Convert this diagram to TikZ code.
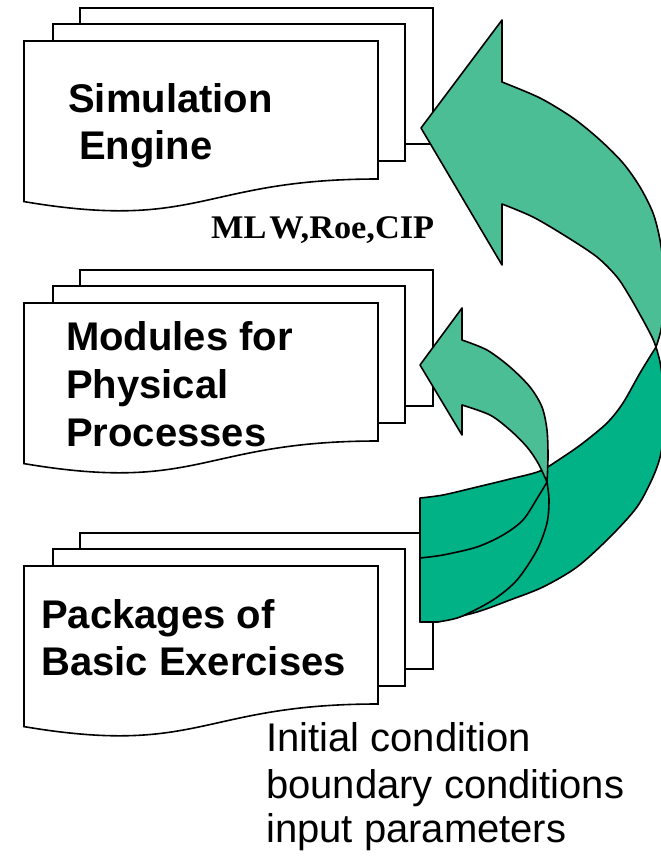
\documentclass[tikz,border=0pt]{standalone}
\usepackage{fontspec}
\setmainfont{Liberation Sans}
\newfontfamily\timesfont[FakeStretch=1.04]{Liberation Serif}
\definecolor{ribbonlight}{RGB}{76,190,150}
\definecolor{ribbondark}{RGB}{0,178,134}

\tikzset{
  sheet/.style={draw=black, line width=1.6pt, fill=white, line join=miter},
  ribbon/.style={draw=black, line width=1.6pt, line join=round},
  boxtext/.style={anchor=base west, inner sep=0pt, font=\fontsize{40}{48}\selectfont\bfseries},
  condtext/.style={anchor=base west, inner sep=0pt, font=\fontsize{40}{46}\selectfont},
  schemetext/.style={anchor=base west, inner sep=0pt, font=\timesfont\fontsize{33}{38}\selectfont\bfseries},
  % stack of three sheets, origin at the top-left corner of the front sheet
  pics/multidoc/.style={code={
    \path[sheet] (56,-33) rectangle (409,103);
    \path[sheet] (29,-17) rectangle (381,120);
    \path[sheet] (0,0) -- (354,0) -- (354,138)
      .. controls (177,138) and (177,190.5) .. (0,160.6) -- cycle;
  }}
}

\begin{document}
\begin{tikzpicture}[x=1pt,y=-1pt]
\useasboundingbox (0,0) rectangle (661,857);
\clip (0,0) rectangle (661,857);

% document stacks
\pic (engine) at (24,41) {multidoc};
\pic (modules) at (24,303) {multidoc};
\pic (packages) at (24,566) {multidoc};

% large curved arrow: underside of the ribbon
\path[ribbon, fill=ribbondark] (420,498) -- (420,622) -- (437,622)
  -- plot[smooth] coordinates {(437,622) (477,612) (510,600) (543,587) (577,567)
     (610,537) (637,507) (653,477) (661,453) (664,420) (663,385) (660,362) (656,347)}
  -- plot[smooth] coordinates {(656,347) (640,373) (623,403) (607,423) (583,443)
     (563,457) (540,471) (510,479) (477,487) (443,495) (420,498)}
  -- cycle;

% large curved arrow: front of the ribbon and head
\path[ribbon, fill=ribbonlight] (421,128) -- (502,20) -- (502,82)
  -- plot[smooth] coordinates {(502,82) (540,98) (573,118) (600,140) (623,163)
     (640,187) (653,213) (660,240) (664,272) (664,305) (661,330) (656,347)}
  -- plot[smooth] coordinates {(656,347) (652,337) (643,320) (630,297) (617,277)
     (597,257) (567,237) (533,217) (502,204)}
  -- (502,265) -- cycle;

% small curved arrow: underside of the ribbon
\path[ribbon, fill=ribbondark] (547,482)
  -- plot[smooth] coordinates {(547,482) (549,500) (547,523) (537,550) (517,580)
     (493,600) (460,617) (437,622)}
  -- (420,622) -- (420,558)
  -- plot[smooth] coordinates {(420,558) (443,555) (477,547) (503,535) (523,520)
     (538,497) (547,482)}
  -- cycle;

% small curved arrow: front of the ribbon and head
\path[ribbon, fill=ribbonlight] (420,365) -- (462,308) -- (462,340)
  -- plot[smooth] coordinates {(462,340) (487,350) (510,367) (530,387) (542,407)
     (547,430) (548,457) (547,482)}
  -- plot[smooth] coordinates {(547,482) (538,463) (527,447) (510,430) (490,415)
     (462,405)}
  -- (462,435) -- cycle;

% labels
\node[boxtext] (sim1) at (68,112) {Simulation};
\node[boxtext] (sim2) at (79,159) {Engine};
\node[schemetext] (schemes) at (211,238) {ML\kern3pt W,Roe,CIP};
\node[boxtext] (mod1) at (66,350) {Modules for};
\node[boxtext] (mod2) at (66,398) {Physical};
\node[boxtext] (mod3) at (66,446) {Processes};
\node[boxtext] (pkg1) at (41,628) {Packages of};
\node[boxtext] (pkg2) at (41,675) {Basic Exercises};
\node[condtext] (cond1) at (266,751) {Initial condition};
\node[condtext] (cond2) at (266,798) {boundary conditions};
\node[condtext] (cond3) at (266,842) {input parameters};
\end{tikzpicture}
\end{document}
